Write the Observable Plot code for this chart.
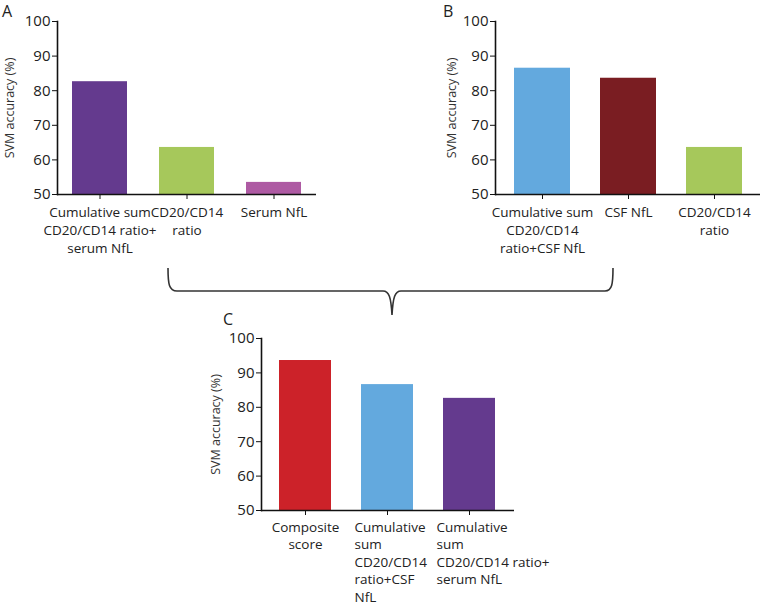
<!DOCTYPE html>
<html>
<head>
<meta charset="utf-8">
<script src="https://cdn.jsdelivr.net/npm/d3@7"></script>
<script src="https://cdn.jsdelivr.net/npm/@observablehq/plot@0.6"></script>
<style>
  html, body { margin: 0; padding: 0; background: #fff; }
  #root { position: relative; width: 761px; height: 607px; font-family: "Open Sans", sans-serif; color: #222; overflow: hidden; }
  .panel { position: absolute; }
  .panel svg { overflow: visible; }
  .letter { position: absolute; font-size: 16px; line-height: 16px; color: #222; }
  #brace { position: absolute; left: 0; top: 0; }
</style>
</head>
<body>
<div id="root"></div>
<script>
// ---- data ----
const catsA = ["Cumulative sum\nCD20/CD14 ratio+\nserum NfL", "CD20/CD14\nratio", "Serum NfL"];
const valsA = [82.6, 63.6, 53.5];
const catsB = ["Cumulative sum\nCD20/CD14\nratio+CSF NfL", "CSF NfL", "CD20/CD14\nratio"];
const valsB = [86.5, 83.6, 63.6];
const catsC = ["Composite\nscore", "Cumulative\nsum\nCD20/CD14\nratio+CSF\nNfL", "Cumulative\nsum\nCD20/CD14 ratio+\nserum NfL"];
const valsC = [93.6, 86.6, 82.6];
const yTicks = [50, 60, 70, 80, 90, 100];
const yLabel = "SVM accuracy (%)";

// colours and label alignment (styles kept apart from the data)
const colorsA = ["#643a8e", "#a6c85b", "#ae5aa3"];
const colorsB = ["#63a9de", "#7a1d22", "#a6c85b"];
const colorsC = ["#cc2229", "#63a9de", "#643a8e"];
const alignA = ["middle", "middle", "middle"];
const alignB = ["middle", "middle", "middle"];
const alignC = ["middle", "start", "start"];

const root = document.getElementById("root");

function panel(cats, vals, colors, align, o) {
  const data = cats.map((c, i) => ({cat: c, v: vals[i], col: colors[i], a: align[i]}));
  const labelOpts = {
    x: "cat", y: () => 50, text: "cat", lineAnchor: "top", dy: o.ldy,
    fontSize: 13.5, lineHeight: o.lh, fill: "#222"
  };
  const chart = Plot.plot({
    width: o.width,
    height: o.height,
    marginLeft: o.ml,
    marginRight: o.mr,
    marginTop: o.mt,
    marginBottom: o.mb,
    style: {fontFamily: "'Open Sans', sans-serif", fontSize: "14px", color: "#222", background: "transparent", overflow: "visible"},
    x: {domain: cats, paddingInner: o.pi, paddingOuter: o.po, label: null},
    y: {domain: [50, 100], label: null},
    marks: [
      Plot.barY(data, {x: "cat", y1: 50, y2: "v", fill: "col"}),
      Plot.axisY({ticks: yTicks, tickSize: 5, tickPadding: 2, fontSize: 15, label: null, stroke: "#111"}),
      Plot.axisX({tickSize: 5, tickFormat: () => "", label: null, stroke: "#111"}),
      Plot.text(data.filter(d => d.a === "middle"), {...labelOpts, textAnchor: "middle"}),
      Plot.text(data.filter(d => d.a === "start"), {...labelOpts, textAnchor: "start", dx: -33}),
      Plot.ruleY([50], {stroke: "#111", strokeWidth: 1.6}),
      Plot.frame({anchor: "left", stroke: "#111", strokeWidth: 1.6}),
      Plot.text([yLabel], {
        frameAnchor: "left", dx: -o.lo, rotate: -90, text: d => d,
        textAnchor: "middle", fontSize: 12.5, fill: "#333"
      })
    ]
  });
  const wrap = document.createElement("div");
  wrap.className = "panel";
  wrap.style.left = o.left + "px";
  wrap.style.top = o.top + "px";
  wrap.appendChild(chart);
  root.appendChild(wrap);
}

panel(catsA, valsA, colorsA, alignA, {left: 0, top: 0, width: 320, height: 270, ml: 57, mr: 4, mt: 21, mb: 76, pi: 0.37, po: 0.17, lo: 48, ldy: 10, lh: 1.33});
panel(catsB, valsB, colorsB, alignB, {left: 430, top: 0, width: 331, height: 270, ml: 65, mr: 1, mt: 21, mb: 76, pi: 0.35, po: 0.21, lo: 44, ldy: 10, lh: 1.33});
panel(catsC, valsC, colorsC, alignC, {left: 190, top: 317, width: 340, height: 290, ml: 71, mr: 16, mt: 21, mb: 97, pi: 0.36, po: 0.21, lo: 46, ldy: 9, lh: 1.29});

// panel letters
[["A", 2, 3], ["B", 443, 3], ["C", 223, 311]].forEach(([t, x, y]) => {
  const d = document.createElement("div");
  d.className = "letter";
  d.textContent = t;
  d.style.left = x + "px";
  d.style.top = y + "px";
  root.appendChild(d);
});

// curly brace joining A and B into C
const svg = d3.select(root).append("svg")
  .attr("id", "brace").attr("width", 761).attr("height", 607)
  .style("pointer-events", "none");
svg.append("path")
  .attr("d", "M168,268 C168,284 169,291 177,291 L383,291 C389,291 391,297 392,315 C393,297 395,291 401,291 L605,291 C612,291 613,284 613,268")
  .attr("fill", "none").attr("stroke", "#333").attr("stroke-width", 1.6);
</script>
</body>
</html>
